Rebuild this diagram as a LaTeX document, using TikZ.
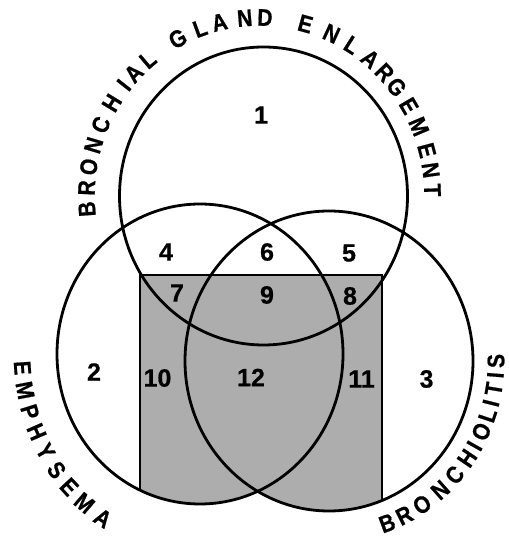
\documentclass[tikz,border=0pt]{standalone}
\usepackage{fontspec}
\newfontfamily\labfont{Liberation Sans Bold}[FakeBold=0.6]
\newfontfamily\titlefont{Liberation Sans Bold}[FakeStretch=0.88,FakeBold=0.7]
\begin{document}
\begin{tikzpicture}[x=1pt,y=1pt,
  ring/.style={line width=2.8pt},
  boxline/.style={line width=2.8pt},
  shade/.style={fill=black!32},
  num/.style={font=\labfont\fontsize{25}{29}\selectfont, inner sep=0pt},
  letter/.style={font=\titlefont\fontsize{24}{28}\selectfont, inner sep=0pt}]
\useasboundingbox (0,0) rectangle (508,537);
% shaded region: rectangle within emphysema or bronchiolitis
\begin{scope}
  \clip (140,262) rectangle (382,20);
  \fill[shade] (200,183) ellipse [x radius=143pt, y radius=150pt];
  \fill[shade] (329,176) ellipse [x radius=144pt, y radius=150pt];
\end{scope}
% rectangle outline, ending on the circles
\begin{scope}
  \clip (200,183) ellipse [x radius=143pt, y radius=150pt]
        (329,176) ellipse [x radius=144pt, y radius=150pt];
  \draw[boxline] (140,20) -- (140,262) -- (382,262) -- (382,20);
\end{scope}
% circles
\draw[ring] (263.5,341) ellipse [x radius=144pt, y radius=149pt];
\draw[ring] (200,183) ellipse [x radius=143pt, y radius=150pt];
\draw[ring] (329,176) ellipse [x radius=144pt, y radius=150pt];
% curved title: BRONCHIAL GLAND ENLARGEMENT
\begin{scope}[shift={(259.5,341)}]
  \foreach \ch/\t [count=\i] in {B/184.2, R/177.4, O/170.6, N/163.5, C/156.5,
      H/148.6, I/141.6, A/136.6, L/130.2,
      G/118.2, L/110.1, A/103.4, N/94.9, D/88.2,
      E/74.6, N/65.4, L/57.7, A/50.2, R/43.7, G/37.6, E/30.3, M/22.9,
      E/14.8, N/8.3, T/1.9}
    \node[letter, rotate=\t-90] (tl\i) at (\t:173pt and 178.5pt) {\ch};
\end{scope}
% curved title: EMPHYSEMA
\begin{scope}[shift={(200,183)}]
  \foreach \ch/\t [count=\i] in {E/184.1, M/190.7, P/197.2, H/203.4, Y/209.8,
      S/216.3, E/222.7, M/229.5, A/236.9}
    \node[letter, rotate=\t+90] (el\i) at (\t:178pt and 196pt) {\ch};
\end{scope}
% curved title: BRONCHIOLITIS
\begin{scope}[shift={(329,176)}]
  \foreach \ch/\t [count=\i] in {B/-69.6, R/-63.2, O/-56.1, N/-48.2, C/-41.2,
      H/-34.2, I/-29.4, O/-24.1, L/-18.3, I/-14.1, T/-9.3, I/-4.7, S/0}
    \node[letter, rotate=\t+90] (bl\i) at (\t:167pt and 173pt) {\ch};
\end{scope}
% region numbers
\node[num] (n1) at (261,422) {1};
\node[num] (n2) at (94,165) {2};
\node[num] (n3) at (426.5,158) {3};
\node[num] (n4) at (166,285) {4};
\node[num] (n5) at (349,284) {5};
\node[num] (n6) at (267,285) {6};
\node[num] (n7) at (177,244) {7};
\node[num] (n8) at (350,241) {8};
\node[num] (n9) at (267,242) {9};
\node[num] (n10) at (157.5,159) {10};
\node[num] (n11) at (361.5,158) {11};
\node[num] (n12) at (251,159.5) {12};
\end{tikzpicture}
\end{document}
